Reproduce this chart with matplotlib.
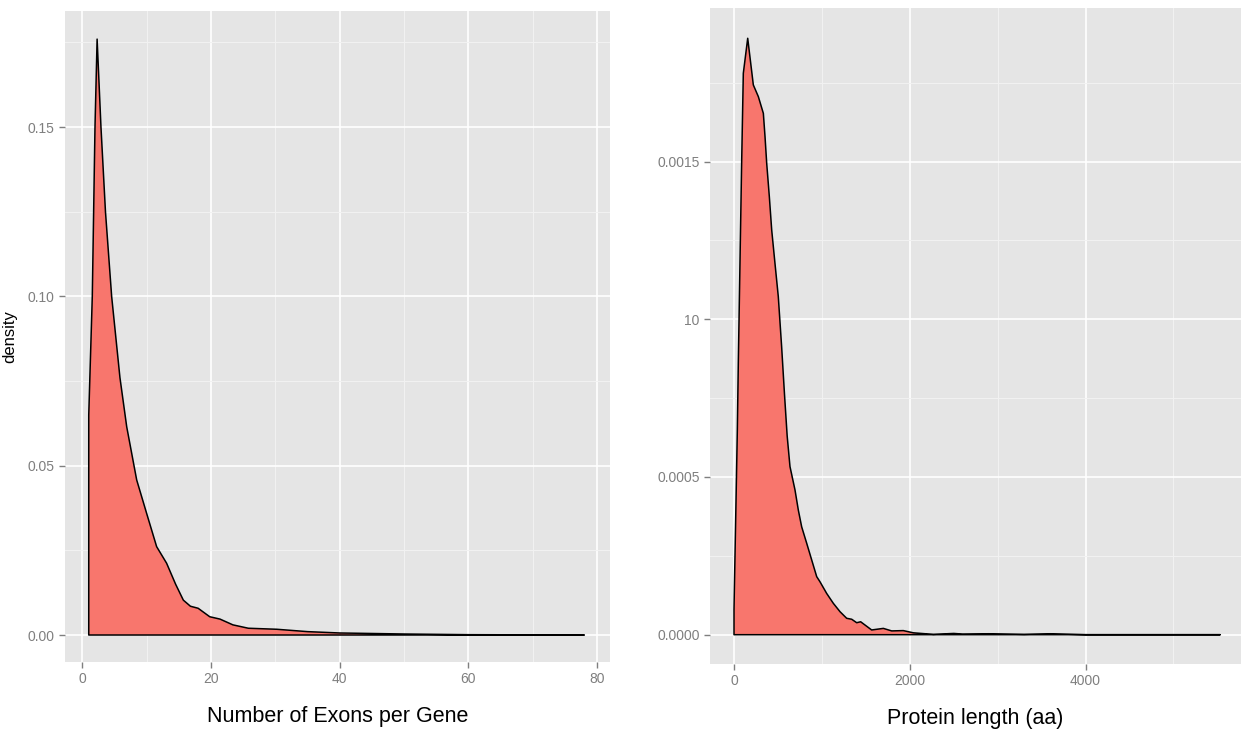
import matplotlib as mpl
mpl.use('Agg')
import matplotlib.pyplot as plt

plt.rcParams['font.family'] = ['Liberation Sans', 'DejaVu Sans']

# exon count density
exon_x = [1.0, 1.0, 1.55, 1.97, 2.3, 2.9, 3.6, 4.56, 5.85, 6.9, 8.45, 10.0, 11.55,
          13.1, 14.5, 15.7, 16.8, 18.0, 19.8, 21.4, 23.4, 25.8, 30.2, 35, 40, 50, 60, 78]
exon_y = [0.0, 0.065, 0.10, 0.15, 0.176, 0.15, 0.125, 0.10, 0.076, 0.0615, 0.0458,
          0.0359, 0.0261, 0.0212, 0.015, 0.0103, 0.0085, 0.0079, 0.0054, 0.0047,
          0.0030, 0.0020, 0.0017, 0.0010, 0.0006, 0.0003, 0.0001, 0.0]

# protein length density
prot_x = [0, 0, 38, 49, 68, 87, 106, 156, 220, 277, 334, 353, 372, 402, 429, 466,
          504, 542, 575, 605, 637, 694, 732, 770, 827, 884, 941, 978, 1054, 1130, 1206,
          1282, 1339, 1396, 1441, 1566, 1699, 1794, 1926, 2040, 2268, 2500, 2600,
          2900, 3300, 3600, 4000, 5530]
prot_y = [0.0, 0.00008, 0.00065, 0.00086, 0.001178, 0.001495, 0.00178, 0.001891,
          0.001743, 0.001706, 0.001653, 0.001579, 0.001495, 0.001389, 0.001283,
          0.001178, 0.001072, 0.000913, 0.00076, 0.00063, 0.000533, 0.000459,
          0.000395, 0.000342, 0.00029, 0.000237, 0.000184, 0.000168, 0.000131,
          0.0000995, 0.000073, 0.000052, 0.000049, 0.000038, 0.000041, 0.000015,
          0.00002, 0.000012, 0.000013, 0.000006, 0.000001, 0.000004, 0.000002,
          0.000003, 0.000001, 0.000003, 0.0, 0.0]

exon_xticks = [0, 20, 40, 60, 80]
exon_yticks = [0.00, 0.05, 0.10, 0.15]
exon_yticklabels = ['0.00', '0.05', '0.10', '0.15']
prot_xticks = [0, 2000, 4000]
prot_yticks = [0.0, 0.0005, 0.0010, 0.0015]
prot_yticklabels = ['0.0000', '0.0005', '10', '0.0015']

W, H = 1241, 736
fig = plt.figure(figsize=(W / 100, H / 100), dpi=100)


def style(ax, xminor, yminor):
    ax.set_facecolor('#E5E5E5')
    for s in ax.spines.values():
        s.set_visible(False)
    ax.set_xticks(xminor, minor=True)
    ax.set_yticks(yminor, minor=True)
    ax.grid(which='major', color='white', lw=1.2)
    ax.grid(which='minor', color='#F2F2F2', lw=0.7)
    ax.set_axisbelow(True)
    ax.tick_params(which='major', length=4.3, width=1, color='#7F7F7F',
                   labelcolor='#7F7F7F', labelsize=10, pad=3)
    ax.tick_params(which='minor', length=0)


ax1 = fig.add_axes([65 / W, (H - 662) / H, 545 / W, 651 / H])
ax1.fill(exon_x, exon_y, facecolor='#F8766D', edgecolor='black', lw=1.1,
         joinstyle='round')
ax1.set_xlim(-2.69, 82.0)
ax1.set_ylim(-0.00797, 0.1843)
ax1.set_xticks(exon_xticks)
ax1.set_yticks(exon_yticks)
ax1.set_yticklabels(exon_yticklabels)
style(ax1, [10, 30, 50, 70], [0.025, 0.075, 0.125, 0.175])
ax1.set_xlabel('Number of Exons per Gene', fontsize=15.5, labelpad=14)
ax1.set_ylabel('density', fontsize=12, labelpad=8)

ax2 = fig.add_axes([710 / W, (H - 664) / H, 531 / W, 656 / H])
ax2.fill(prot_x, prot_y, facecolor='#F8766D', edgecolor='black', lw=1.1,
         joinstyle='round')
ax2.set_xlim(-273, 5768)
ax2.set_ylim(-0.0000929, 0.001987)
ax2.set_xticks(prot_xticks)
ax2.set_yticks(prot_yticks)
ax2.set_yticklabels(prot_yticklabels)
style(ax2, [1000, 3000, 5000], [0.00025, 0.00075, 0.00125, 0.00175])
ax2.set_xlabel('Protein length (aa)', fontsize=15.5, labelpad=14)

fig.savefig('out.png', dpi=100)
